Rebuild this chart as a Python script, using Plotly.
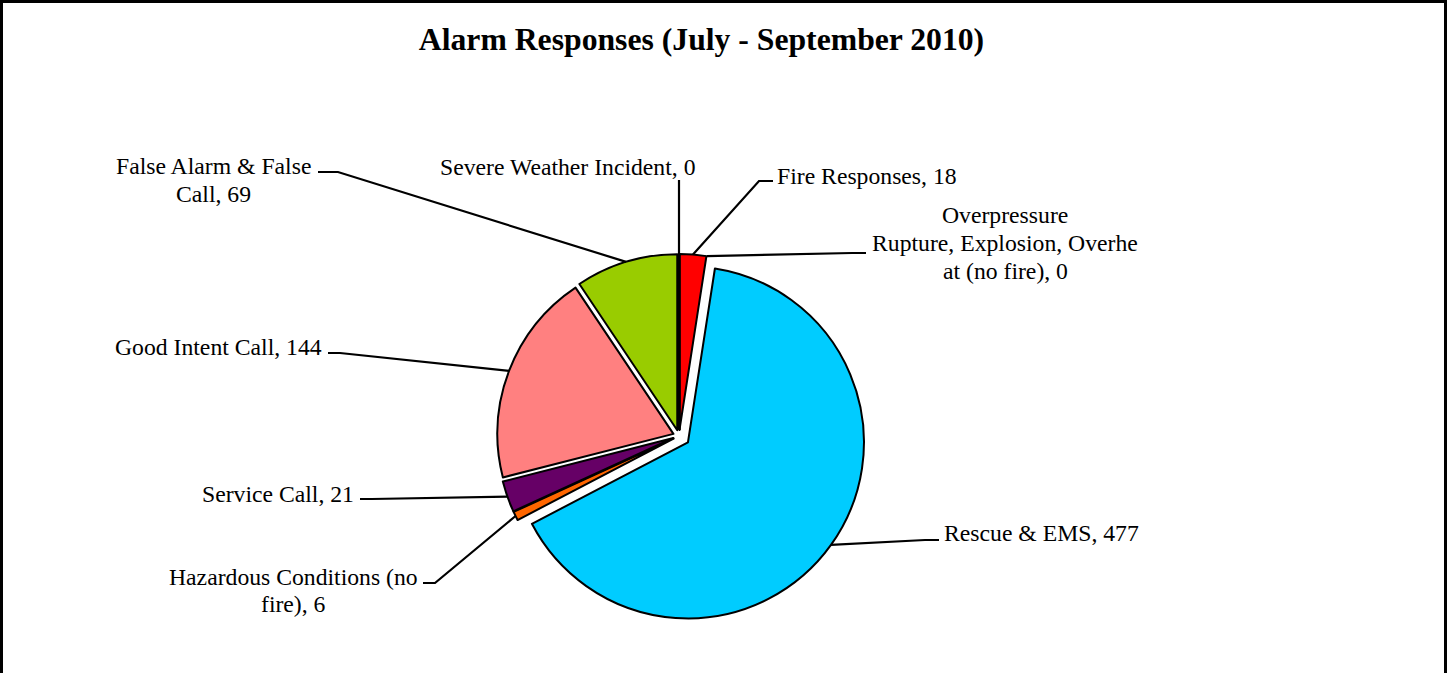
import math
import plotly.graph_objects as go

# ---------------- data ----------------
categories = [
    "Fire Responses",
    "Overpressure Rupture, Explosion, Overheat (no fire)",
    "Rescue & EMS",
    "Hazardous Conditions (no fire)",
    "Service Call",
    "Good Intent Call",
    "False Alarm & False Call",
    "Severe Weather Incident",
]
counts = [18, 0, 477, 6, 21, 144, 69, 0]
label_lines = [
    ["Fire Responses, 18"],
    ["Overpressure", "Rupture, Explosion, Overhe", "at (no fire), 0"],
    ["Rescue & EMS, 477"],
    ["Hazardous Conditions (no", "fire), 6"],
    ["Service Call, 21"],
    ["Good Intent Call, 144"],
    ["False Alarm & False", "Call, 69"],
    ["Severe Weather Incident, 0"],
]
title_text = "Alarm Responses (July - September 2010)"

# ---------------- styles / layout ----------------
colors = ["#FF0000", "#FFFF00", "#00CCFF", "#FF6600", "#660066", "#FF8080", "#99CC00", "#808080"]
pulls = [0.034, 0.034, 0.0625, 0.034, 0.034, 0.034, 0.034, 0.034]
W, H = 1449, 673
CX, CY, R = 679, 436, 176          # pie centre and radius (px)
FONT = "Liberation Serif, Times New Roman, serif"
FS = 23.7
TEXT_DY = 2.0                       # fine vertical adjust of label text

# label placement (px): text anchor x, baselines, alignment, leader knee + end
label_place = [
    dict(x=776, base=[182], align="left", knee=(759, 181), end=(773, 181)),
    dict(x=1005, base=[221, 249, 277], align="center", knee=(852, 253), end=(866, 253)),
    dict(x=943, base=[539], align="left", knee=(925, 540), end=(939, 540)),
    dict(x=293, base=[583, 610], align="center", knee=(435, 583), end=(423, 583)),
    dict(x=355, base=[500], align="right", knee=(372, 499), end=(360, 499)),
    dict(x=323, base=[353], align="right", knee=(340, 353), end=(328, 353)),
    dict(x=213, base=[172, 200], align="center", knee=(338, 172), end=(318, 172)),
    dict(x=567, base=[173], align="center", knee=(679, 181), end=(679, 180)),
]


def px(x):
    return x / W


def py(y):
    return 1 - y / H


maxpull = max(pulls)
box = 2 * R * (1 + maxpull)

fig = go.Figure()
fig.add_trace(go.Pie(
    labels=categories,
    values=counts,
    sort=False,
    direction="clockwise",
    rotation=0,
    pull=pulls,
    marker=dict(colors=colors,
                line=dict(color="black", width=[2 if v > 0 else 0 for v in counts])),
    textinfo="none",
    hoverinfo="label+value",
    showlegend=False,
    domain=dict(x=[px(CX - box / 2), px(CX + box / 2)],
                y=[py(CY + box / 2), py(CY - box / 2)]),
))

# leader lines computed from the slice angles
total = sum(counts)
shapes = []
annotations = []
cum = 0.0
for i, v in enumerate(counts):
    mid = (cum + v / 2) / total * 360.0
    cum += v
    th = math.radians(mid)
    sx = CX + pulls[i] * R * math.sin(th)
    sy = CY - pulls[i] * R * math.cos(th)
    ax = sx + R * math.sin(th)
    ay = sy - R * math.cos(th)
    lp = label_place[i]
    kx, ky = lp["knee"]
    ex, ey = lp["end"]
    path = f"M {px(ax)} {py(ay)} L {px(kx)} {py(ky)} L {px(ex)} {py(ey)}"
    shapes.append(dict(type="path", path=path, xref="paper", yref="paper",
                       line=dict(color="black", width=2.2), layer="above"))
    if v == 0 and i == len(counts) - 1:
        # zero-width slice drawn as a heavy radial stroke
        shapes.append(dict(type="line", xref="paper", yref="paper",
                           x0=px(CX), y0=py(CY - 6), x1=px(ax), y1=py(ay),
                           line=dict(color="black", width=3.5), layer="above"))
    for line_txt, b in zip(label_lines[i], lp["base"]):
        annotations.append(dict(
            text=line_txt, xref="paper", yref="paper",
            x=px(lp["x"]), y=py(b - 0.337 * FS + TEXT_DY),
            xanchor=lp["align"], yanchor="middle", showarrow=False,
            borderpad=0, font=dict(family=FONT, size=FS, color="black")))

# chart frame
shapes.append(dict(type="rect", xref="paper", yref="paper",
                   x0=px(1.5), x1=px(1445.5), y0=py(700), y1=py(1.5),
                   line=dict(color="black", width=3), layer="above"))

fig.update_layout(
    width=W, height=H, autosize=False,
    margin=dict(l=0, r=0, t=0, b=0),
    paper_bgcolor="white", plot_bgcolor="white",
    title=dict(text=f"<b>{title_text}</b>", x=px(701.5), y=py(46.7 - 0.337 * 31.7 + 3),
               xanchor="center", yanchor="middle", xref="paper", yref="paper",
               font=dict(family=FONT, size=31.7, color="black")),
    shapes=shapes,
    annotations=annotations,
)

fig.write_html("out.html", config={"displayModeBar": False},
               post_script="document.body.style.margin='0px';")
